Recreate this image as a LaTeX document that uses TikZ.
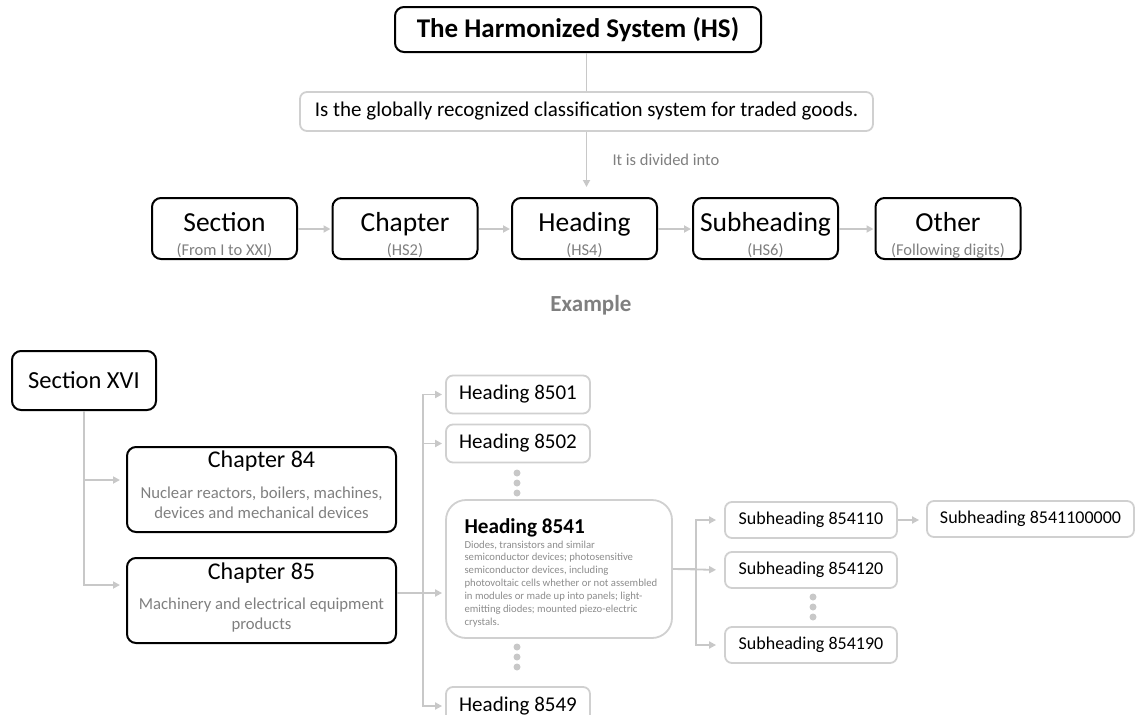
\documentclass[tikz,border=0pt]{standalone}
\usepackage{fontspec}
\setmainfont{Carlito}
\usetikzlibrary{arrows.meta}
\definecolor{linegray}{RGB}{200,200,200}
\definecolor{boxgray}{RGB}{208,208,208}
\definecolor{subgray}{RGB}{127,127,127}
\definecolor{descgray}{RGB}{140,140,140}
\newcommand{\fsz}[2]{\fontsize{#1}{#2}\selectfont}
\tikzset{
  bbox/.style={draw=black, line width=2pt, rounded corners=9pt, inner sep=0pt},
  gbox/.style={draw=boxgray, line width=1.8pt, rounded corners=7pt, inner sep=0pt},
  conn/.style={draw=linegray, line width=1.8pt},
  arr/.style={conn, -{Triangle[length=7pt,width=7pt]}},
  rowbox/.style={bbox, minimum width=145pt, minimum height=61pt},
  rowmain/.style={anchor=base, font=\fsz{27.5}{30}},
  rowsub/.style={anchor=base, font=\fsz{16.5}{18}, text=subgray},
  headbox/.style={gbox, minimum width=144pt, minimum height=38pt, font=\fsz{21}{24}},
  subbox/.style={gbox, minimum width=172pt, minimum height=36pt, font=\fsz{18}{21}},
  dot/.style={circle, fill=linegray, inner sep=0pt, minimum size=7pt},
}
\begin{document}
\begin{tikzpicture}[x=1pt,y=-1pt]
\useasboundingbox (0,0) rectangle (1144,715);
\clip (0,0) rectangle (1144,715);

% top part
\node[bbox, minimum width=366pt, minimum height=45pt, font=\bfseries\fsz{27}{30}] (hs) at (578,29.5) {The Harmonized System (HS)};
\node[gbox, minimum width=573pt, minimum height=39pt, font=\fsz{21}{24}] (desc) at (586.5,111.5) {Is the globally recognized classification system for traded goods.};

\node[rowbox] (sec) at (224.5,228.5) {};
\node[rowbox] (chap) at (405,228.5) {};
\node[rowbox] (head) at (584.5,228.5) {};
\node[rowbox] (subh) at (765.5,228.5) {};
\node[rowbox] (oth) at (948,228.5) {};

\node[rowmain] (secT) at (224.5,231) {Section};
\node[rowsub] (secS) at (224.5,255) {(From I to XXI)};
\node[rowmain] (chapT) at (405,231) {Chapter};
\node[rowsub] (chapS) at (405,255) {(HS2)};
\node[rowmain] (headT) at (584.5,231) {Heading};
\node[rowsub] (headS) at (584.5,255) {(HS4)};
\node[rowmain] (subhT) at (765.5,231) {Subheading};
\node[rowsub] (subhS) at (765.5,255) {(HS6)};
\node[rowmain] (othT) at (948,231) {Other};
\node[rowsub] (othS) at (948,255) {(Following digits)};

\draw[conn] (desc.north) -- (desc.north |- hs.south);
\draw[arr, shorten >=10pt] (desc.south) -- (desc.south |- head.north);
\node[anchor=west, font=\fsz{16.5}{18}, text=subgray] (divlbl) at (609,160) {It is divided into};

\draw[arr, shorten >=1pt] ([yshift=-0.5pt]sec.east) -- ([yshift=-0.5pt]chap.west);
\draw[arr, shorten >=1pt] ([yshift=-0.5pt]chap.east) -- ([yshift=-0.5pt]head.west);
\draw[arr, shorten >=1pt] ([yshift=-0.5pt]head.east) -- ([yshift=-0.5pt]subh.west);
\draw[arr, shorten >=1pt] ([yshift=-0.5pt]subh.east) -- ([yshift=-0.5pt]oth.west);

\node[font=\bfseries\fsz{23}{26}, text=subgray] (ex) at (591,305) {Example};

% example part
\node[bbox, minimum width=144pt, minimum height=59pt, font=\fsz{24.5}{28}] (sx) at (84,380.5) {Section XVI};

\node[bbox, minimum width=269pt, minimum height=85pt] (c84) at (261.5,489.5) {};
\node[anchor=base, font=\fsz{24}{27}] (c84T) at (261.5,467) {Chapter 84};
\node[anchor=base, font=\fsz{16.7}{20}, text=subgray, align=center] (c84D) at (261.5,518) {Nuclear reactors, boilers, machines,\\devices and mechanical devices};

\node[bbox, minimum width=269pt, minimum height=85pt] (c85) at (261.5,600.5) {};
\node[anchor=base, font=\fsz{24}{27}] (c85T) at (261.5,579) {Chapter 85};
\node[anchor=base, font=\fsz{16.7}{20}, text=subgray, align=center] (c85D) at (261.5,629) {Machinery and electrical equipment\\products};

\draw[arr, shorten >=6pt] (sx.south) |- ([yshift=9.5pt]c84.west);
\draw[arr, shorten >=6pt] (sx.south) |- ([yshift=15.5pt]c85.west);

\node[headbox] (h01) at (518,394.5) {Heading 8501};
\node[headbox] (h02) at (518,443.5) {Heading 8502};
\node[gbox, minimum width=226pt, minimum height=138pt, rounded corners=20pt] (h41) at (559,569) {};
\node[headbox] (h49) at (518,706) {Heading 8549};

\node[anchor=base west, font=\bfseries\fsz{21.2}{24}] (h41T) at (461,533.5) {Heading 8541};
\node[anchor=base west, align=left, font=\fsz{10.7}{12.83}, text=descgray] (h41D) at (461,625) {Diodes, transistors and similar\\semiconductor devices; photosensitive\\semiconductor devices, including\\photovoltaic cells whether or not assembled\\in modules or made up into panels; light-\\emitting diodes; mounted piezo-electric\\crystals.};

\draw[arr, shorten >=3pt] ([yshift=7.5pt]c85.east) -- ++(26,0) |- (h01.west);
\draw[arr, shorten >=3pt] ([yshift=7.5pt]c85.east) -- ++(26,0) |- (h02.west);
\draw[arr, shorten >=3pt] ([yshift=7.5pt]c85.east) -- ([yshift=-24pt]h41.west);
\draw[arr, shorten >=3pt] ([yshift=7.5pt]c85.east) -- ++(26,0) |- (h49.west);

\node[dot] (d1) at (517,473) {};
\node[dot] (d2) at (517,483) {};
\node[dot] (d3) at (517,493) {};
\node[dot] (d4) at (517,647) {};
\node[dot] (d5) at (517,657) {};
\node[dot] (d6) at (517,667) {};

\node[subbox] (s10) at (811,520) {Subheading 854110};
\node[subbox] (s20) at (811,570) {Subheading 854120};
\node[subbox] (s90) at (811,645) {Subheading 854190};
\node[subbox, minimum width=207pt] (s1000) at (1030.5,519) {Subheading 8541100000};

\draw[arr, shorten >=8pt] (h41.east) -- ++(23,0) |- (s10.west);
\draw[arr, shorten >=8pt] (h41.east) -- (s20.west);
\draw[arr, shorten >=8pt] (h41.east) -- ++(23,0) |- (s90.west);
\draw[arr, shorten >=7pt] (s10.east) -- (s10.east -| s1000.west);

\node[dot] (d7) at (813,597) {};
\node[dot] (d8) at (813,607) {};
\node[dot] (d9) at (813,617) {};
\end{tikzpicture}
\end{document}
